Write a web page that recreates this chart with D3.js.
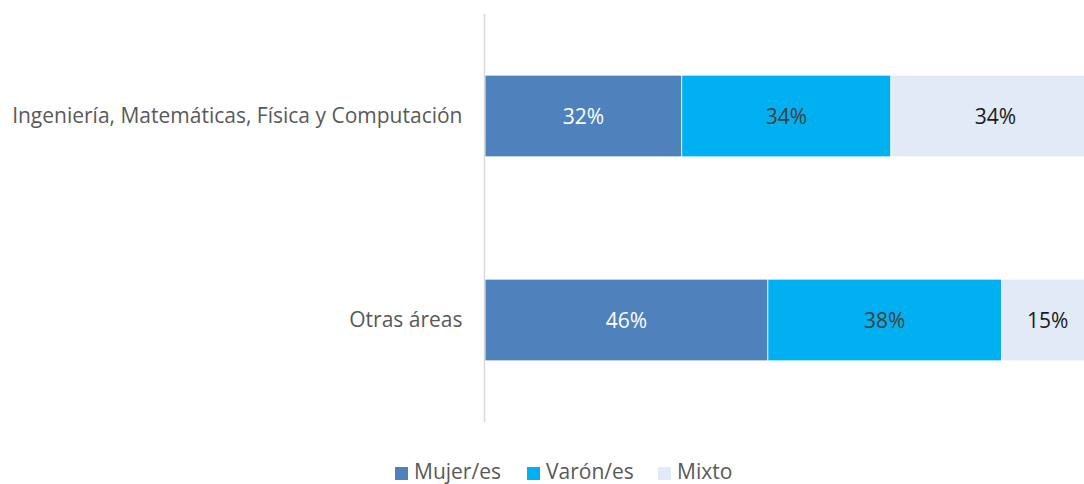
<!DOCTYPE html>
<html>
<head>
<meta charset="utf-8">
<script src="https://cdn.jsdelivr.net/npm/d3@7"></script>
<style>
  body { margin: 0; background: #ffffff; }
  svg { display: block; font-family: "Open Sans", sans-serif; }
</style>
</head>
<body>
<svg id="chart"></svg>
<script>
// data
var categories = ["Ingeniería, Matemáticas, Física y Computación", "Otras áreas"];
var seriesNames = ["Mujer/es", "Varón/es", "Mixto"];
var mujer = [0.32, 0.46];
var varon = [0.34, 0.38];
var mixto = [0.34, 0.15];

var seriesColors = ["#4f81bd", "#00b0f0", "#e3eaf7"];
var labelColors = ["#ffffff", "#404040", "#1a1a1a"];

var width = 1084;
var height = 484;

var svg = d3.select("#chart")
    .attr("width", width)
    .attr("height", height);

// chart area runs past the right edge, like the original crop
var x = d3.scaleLinear()
    .domain([0, 1])
    .range([485, 1100]);

var y = d3.scaleBand()
    .domain(categories)
    .range([14, 422])
    .paddingInner(0.6)
    .paddingOuter(0.3);

var rows = categories.map(function(c, i) {
	return { cat: c, "Mujer/es": mujer[i], "Varón/es": varon[i], "Mixto": mixto[i] };
});

var stack = d3.stack().keys(seriesNames);
var layers = stack(rows);

var g = svg.append("g");

layers.forEach(function(layer, si) {
	var lg = g.append("g");
	lg.selectAll("rect")
		.data(layer)
		.enter()
		.append("rect")
		.attr("x", function(d) { return x(d[0]); })
		.attr("y", function(d) { return y(d.data.cat); })
		.attr("width", function(d) { return x(d[1]) - x(d[0]); })
		.attr("height", y.bandwidth())
		.attr("fill", seriesColors[si])
		.attr("stroke", "#ffffff")
		.attr("stroke-width", 0.7);

	lg.selectAll("text")
		.data(layer)
		.enter()
		.append("text")
		.attr("x", function(d) { return (x(d[0]) + x(d[1])) / 2; })
		.attr("y", function(d) { return y(d.data.cat) + y.bandwidth() / 2; })
		.attr("dy", "0.36em")
		.attr("text-anchor", "middle")
		.attr("font-size", 21)
		.attr("fill", labelColors[si])
		.text(function(d) { return Math.round((d[1] - d[0]) * 100) + "%"; });
});

// vertical axis
var yAxis = svg.append("g")
    .attr("transform", "translate(484.5,0)")
    .call(d3.axisLeft(y).tickSize(0).tickPadding(22));
yAxis.select(".domain")
    .attr("d", "M0,14V422")
    .attr("stroke", "#d9d9d9")
    .attr("stroke-width", 1.5);
yAxis.selectAll("text")
    .attr("font-family", "Open Sans, sans-serif")
    .attr("font-size", 21)
    .attr("fill", "#595959");

// legend
var legendX = [395, 527, 658];
var legend = svg.append("g");
seriesNames.forEach(function(name, i) {
	var item = legend.append("g")
		.attr("transform", "translate(" + legendX[i] + ",467)");
	item.append("rect")
		.attr("width", 13)
		.attr("height", 13)
		.attr("fill", seriesColors[i]);
	item.append("text")
		.attr("x", 19)
		.attr("y", 12)
		.attr("font-size", 21)
		.attr("fill", "#595959")
		.text(name);
});
</script>
</body>
</html>
